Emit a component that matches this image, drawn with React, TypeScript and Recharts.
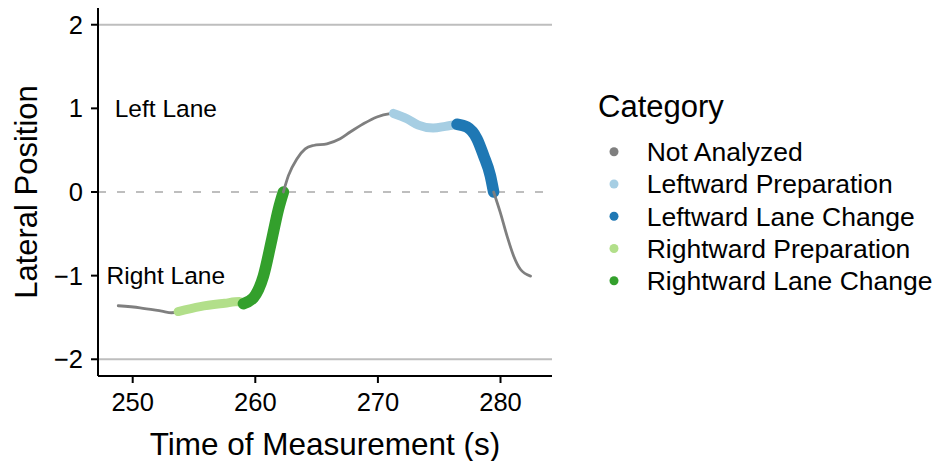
import React from 'react';
import { LineChart, Line, XAxis, YAxis, ReferenceLine, ReferenceDot, Legend } from 'recharts';

const FONT = '"Liberation Sans", Arial, Helvetica, sans-serif';

const categories = ['Not Analyzed', 'Leftward Preparation', 'Leftward Lane Change', 'Rightward Preparation', 'Rightward Lane Change'];
const categoryColors = ['#7f7f7f', '#a6cee3', '#1f78b4', '#b2df8a', '#33a02c'];
const categoryWidths = [2.8, 9, 11.5, 9, 11.5];

const xTicks = [250, 260, 270, 280];
const yTicks = [-2, -1, 0, 1, 2];
const laneLabels = ['Left Lane', 'Right Lane'];
const laneLabelTime = [252.7, 252.7];
const laneLabelPos = [1, -1];

// Segments (time in s, lateral position)
const gray1Time = [248.82, 250.6, 252.37, 253.18, 253.7];
const gray1Pos = [-1.36, -1.385, -1.425, -1.444, -1.43];

const rightPrepTime = [253.7, 255.5, 257.5, 258.7, 259.03];
const rightPrepPos = [-1.43, -1.37, -1.33, -1.31, -1.335];

const rightChangeTime = [259.03, 259.85, 260.66, 261.35, 261.89, 262.29];
const rightChangePos = [-1.335, -1.264, -1.005, -0.564, -0.204, 0.0];

const gray2Time = [262.29, 262.7, 263.39, 264.07, 264.74, 265.84, 266.92, 267.74, 268.82, 269.92, 271.0, 271.27];
const gray2Pos = [0.0, 0.196, 0.396, 0.516, 0.556, 0.576, 0.636, 0.717, 0.816, 0.897, 0.936, 0.94];

const leftPrepTime = [271.27, 272.37, 273.3, 274.5, 275.5, 276.45];
const leftPrepPos = [0.94, 0.876, 0.8, 0.765, 0.785, 0.81];

const leftChangeTime = [276.45, 277.27, 278.08, 278.62, 279.17, 279.44];
const leftChangePos = [0.81, 0.776, 0.636, 0.436, 0.196, 0.0];

const gray3Time = [279.44, 279.98, 280.53, 281.07, 281.62, 282.45];
const gray3Pos = [0.0, -0.244, -0.525, -0.765, -0.924, -1.005];

const zip = (t: number[], v: number[]) => t.map((x, i) => ({ t: x, v: v[i] }));

const segments = [
  { key: 'g1', cat: 0, data: zip(gray1Time, gray1Pos) },
  { key: 'rp', cat: 3, data: zip(rightPrepTime, rightPrepPos) },
  { key: 'rc', cat: 4, data: zip(rightChangeTime, rightChangePos) },
  { key: 'g2', cat: 0, data: zip(gray2Time, gray2Pos) },
  { key: 'lp', cat: 1, data: zip(leftPrepTime, leftPrepPos) },
  { key: 'lc', cat: 2, data: zip(leftChangeTime, leftChangePos) },
  { key: 'g3', cat: 0, data: zip(gray3Time, gray3Pos) },
];

const fmt = (v: number) => String(v).replace('-', '\u2212');

const renderLegend = () => (
  <svg width={370} height={220} style={{ display: 'block' }}>
    <text x={28} y={37} fontSize={31} fontFamily={FONT} fill="#000">Category</text>
    {categories.map((c, i) => {
      const cy = 71.7 + 32.25 * i;
      return (
        <g key={c}>
          <circle cx={44} cy={cy} r={4.5} fill={categoryColors[i]} />
          <text x={76.7} y={cy + 9.4} fontSize={26.5} fontFamily={FONT} fill="#000">{c}</text>
        </g>
      );
    })}
  </svg>
);

export default function App() {
  return (
    <div style={{ position: 'absolute', left: 0, top: 0, width: 940, height: 461, background: '#fff' }}>
      <LineChart width={940} height={461} margin={{ top: 8, right: 388, bottom: 0, left: 0 }}>
        <XAxis
          type="number"
          dataKey="t"
          domain={[247.17, 284.2]}
          allowDataOverflow
          ticks={xTicks}
          height={85}
          tickSize={7}
          tickMargin={10}
          axisLine={{ stroke: '#000', strokeWidth: 2 }}
          tickLine={{ stroke: '#000', strokeWidth: 2 }}
          tick={{ fill: '#000', fontSize: 25.5, fontFamily: FONT }}
          label={{
            content: (p: any) => {
              const vb = p.viewBox || {};
              return (
                <text x={vb.x + vb.width / 2} y={455} textAnchor="middle" fontSize={31.5} fontFamily={FONT} fill="#000">
                  Time of Measurement (s)
                </text>
              );
            },
          }}
        />
        <YAxis
          type="number"
          dataKey="v"
          domain={[-2.2, 2.2]}
          allowDataOverflow
          ticks={yTicks}
          width={98}
          tickSize={7}
          tickMargin={8}
          tickFormatter={fmt}
          axisLine={{ stroke: '#000', strokeWidth: 2 }}
          tickLine={{ stroke: '#000', strokeWidth: 2 }}
          tick={{ fill: '#000', fontSize: 25.5, fontFamily: FONT }}
          label={{
            content: (p: any) => {
              const vb = p.viewBox || {};
              const cy = vb.y + vb.height / 2;
              return (
                <text x={37} y={cy} transform={`rotate(-90, 37, ${cy})`} textAnchor="middle" fontSize={31} fontFamily={FONT} fill="#000">
                  Lateral Position
                </text>
              );
            },
          }}
        />
        <ReferenceLine y={2} stroke="#bebebe" strokeWidth={2} />
        <ReferenceLine y={-2} stroke="#bebebe" strokeWidth={2} />
        <ReferenceLine y={0} stroke="#bebebe" strokeWidth={2} strokeDasharray="8 11" />
        {segments.map((s) => (
          <Line
            key={s.key}
            data={s.data}
            dataKey="v"
            type="monotone"
            stroke={categoryColors[s.cat]}
            strokeWidth={categoryWidths[s.cat]}
            strokeLinecap="round"
            strokeLinejoin="round"
            dot={false}
            activeDot={false}
            legendType="none"
            isAnimationActive={false}
          />
        ))}
        {laneLabels.map((l, i) => (
          <ReferenceDot
            key={l}
            x={laneLabelTime[i]}
            y={laneLabelPos[i]}
            r={0}
            fill="none"
            stroke="none"
            label={{ value: l, position: 'center', fontSize: 24.5, fontFamily: FONT, fill: '#000' }}
          />
        ))}
        <Legend
          layout="vertical"
          align="center"
          verticalAlign="middle"
          content={renderLegend}
          wrapperStyle={{ left: 570, top: 80, width: 370, height: 220 }}
        />
      </LineChart>
    </div>
  );
}
